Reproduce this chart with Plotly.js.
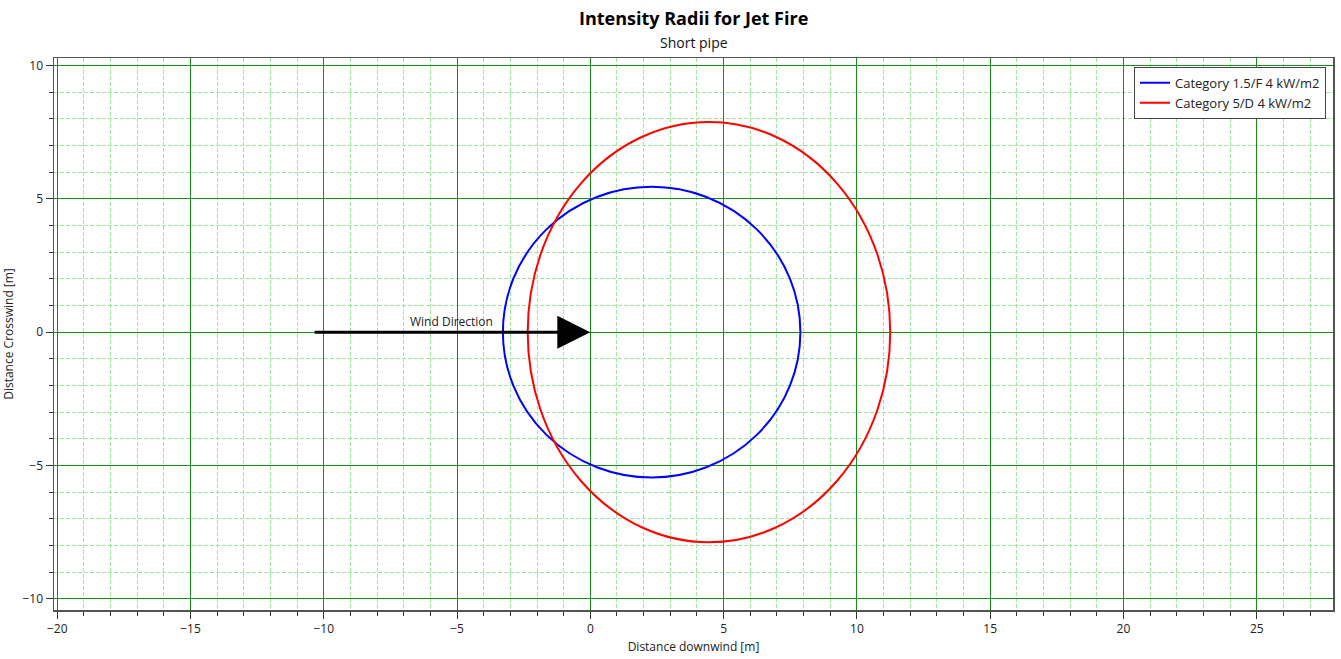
<!DOCTYPE html>
<html>
<head>
<meta charset="utf-8">
<script src="https://cdn.plot.ly/plotly-3.0.1.min.js"></script>
<style>html,body{margin:0;padding:0;background:#fff;}#chart{width:1341px;height:659px;}</style>
</head>
<body>
<div id="chart"></div>
<script>
// Contour data (ellipses: centre and half-axes in metres)
const categories = ["Category 1.5/F 4 kW/m2", "Category 5/D 4 kW/m2"];
const colors = ["#0000ff", "#ff0000"];
const centerX = [2.3, 4.45];
const centerY = [0, 0];
const radiusX = [5.58, 6.8];
const radiusY = [5.45, 7.88];

// Wind arrow (start and end in metres)
const windLabel = "Wind Direction";
const windStart = [-10.4, 0];
const windEnd = [0, 0];

const xTickVals = [-20, -15, -10, -5, 0, 5, 10, 15, 20, 25];
const yTickVals = [-10, -5, 0, 5, 10];

const titleText = "Intensity Radii for Jet Fire";
const subtitleText = "Short pipe";

const FONT = "Open Sans, Noto Sans, sans-serif";

const traces = categories.map((c, i) => ({
  type: "scatter",
  mode: "lines",
  name: c,
  x: [null],
  y: [null],
  line: {color: colors[i], width: 2},
  hoverinfo: "skip"
}));

const shapes = categories.map((c, i) => ({
  type: "circle",
  xref: "x", yref: "y",
  x0: centerX[i] - radiusX[i], x1: centerX[i] + radiusX[i],
  y0: centerY[i] - radiusY[i], y1: centerY[i] + radiusY[i],
  line: {color: colors[i], width: 2},
  fillcolor: "rgba(0,0,0,0)",
  layer: "above"
}));

const axisCommon = {
  showline: true, mirror: true, linecolor: "#555", linewidth: 1.5,
  showgrid: true, gridcolor: "#1a8a1a", gridwidth: 1,
  zeroline: false,
  ticks: "outside", ticklen: 7, tickcolor: "#333", tickwidth: 1,
  tickfont: {family: FONT, size: 12, color: "#222"},
  minor: {dtick: 1, showgrid: true, gridcolor: "#9be89b", griddash: "4px,2px", gridwidth: 1,
          ticks: "outside", ticklen: 4, tickcolor: "#333"}
};

const layout = {
  width: 1341, height: 659,
  margin: {l: 54, r: 8, t: 57.5, b: 49},
  paper_bgcolor: "#fff", plot_bgcolor: "#fff",
  xaxis: Object.assign({}, axisCommon, {
    range: [-20.12, 27.86],
    tickvals: xTickVals,
    title: {text: "Distance downwind [m]", font: {family: FONT, size: 12, color: "#222"}, standoff: 6}
  }),
  yaxis: Object.assign({}, axisCommon, {
    range: [-10.42, 10.28],
    tickvals: yTickVals,
    title: {text: "Distance Crosswind [m]", font: {family: FONT, size: 12, color: "#222"}, standoff: 8}
  }),
  showlegend: true,
  legend: {
    x: 0.9945, xanchor: "right", y: 0.984, yanchor: "top",
    bgcolor: "#fff", bordercolor: "#444", borderwidth: 1,
    font: {family: FONT, size: 13, color: "#222"},
    tracegroupgap: 0, itemwidth: 30
  },
  shapes: shapes,
  annotations: [
    {
      xref: "paper", yref: "paper", x: 0.5, y: 1, yshift: 40, xanchor: "center", yanchor: "middle",
      text: "<b>" + titleText + "</b>", showarrow: false,
      font: {family: FONT, size: 18, color: "#000"}
    },
    {
      xref: "paper", yref: "paper", x: 0.5, y: 1, yshift: 16, xanchor: "center", yanchor: "middle",
      text: subtitleText, showarrow: false,
      font: {family: FONT, size: 14, color: "#111"}
    },
    {
      xref: "x", yref: "y", axref: "x", ayref: "y",
      x: windEnd[0], y: windEnd[1], ax: windStart[0], ay: windStart[1],
      text: "", showarrow: true, arrowhead: 2, arrowsize: 2.2, arrowwidth: 3, arrowcolor: "#000"
    },
    {
      xref: "x", yref: "y",
      x: (windStart[0] + windEnd[0]) / 2, y: windStart[1],
      text: windLabel, showarrow: false, yanchor: "bottom", yshift: 0,
      font: {family: FONT, size: 12, color: "#222"}
    }
  ]
};

Plotly.newPlot("chart", traces, layout, {displayModeBar: false, staticPlot: true});
</script>
</body>
</html>
